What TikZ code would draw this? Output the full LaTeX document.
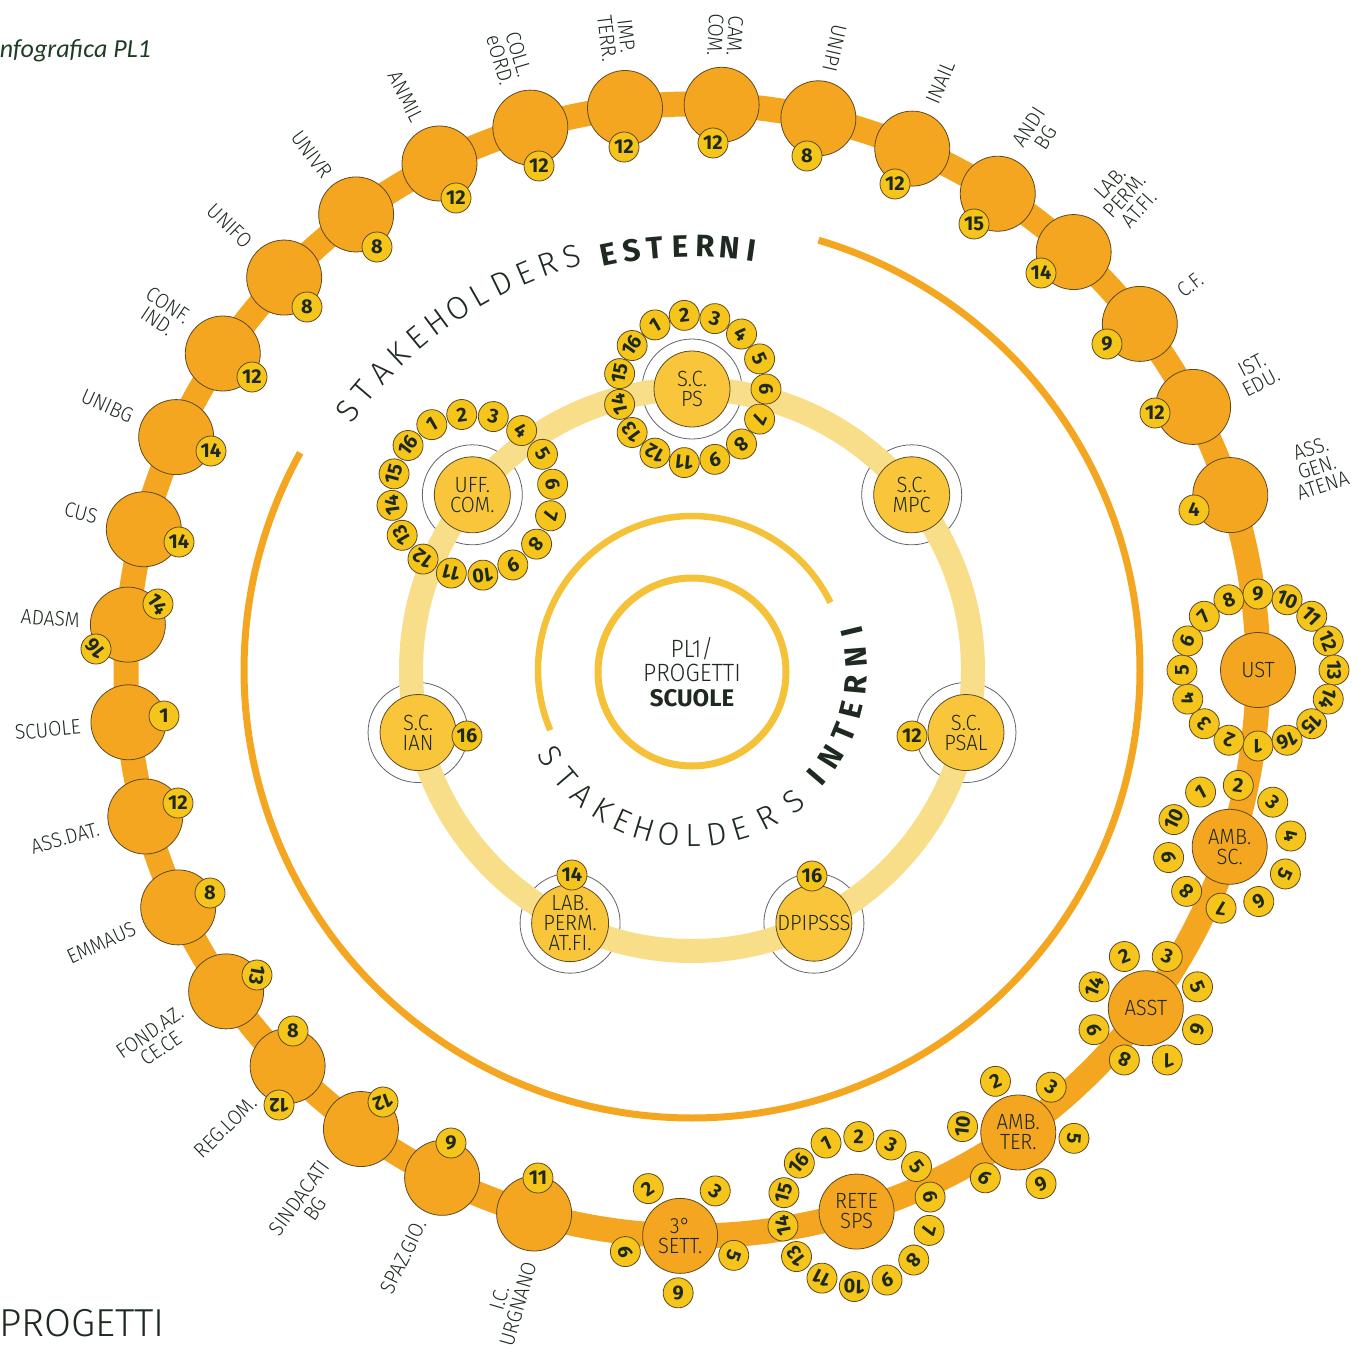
\documentclass[tikz,border=0pt]{standalone}
\usepackage{fontspec}
\setmainfont{Fira Sans}
\newfontfamily\flight{Fira Sans Light}
\newfontfamily\flightn{Fira Sans Light}[FakeStretch=0.92]
\newfontfamily\fcal{Carlito}
\definecolor{orA}{HTML}{F4A620}
\definecolor{bdg}{HTML}{F6C51C}
\definecolor{inY}{HTML}{F9C63B}
\definecolor{paleY}{HTML}{F8DE88}
\definecolor{goldC}{HTML}{F5C138}
\definecolor{ol}{HTML}{5E4A22}
\definecolor{txt}{HTML}{1E2A20}
\definecolor{dkgreen}{HTML}{1F3D24}
\definecolor{ringgray}{HTML}{60646B}
\newcommand\badgering[6]{%
  \begin{scope}[shift={(#1.center)}]
    \foreach \num [count=\ii from 0] in {#5} {
      \pgfmathsetmacro\bang{#3+(#4)*\ii}
      \node[badge, rotate=\bang-90] (#6-\num) at ({#2*cos(\bang)},{-#2*sin(\bang)}) {\num};
    }
  \end{scope}}
\begin{document}
\begin{tikzpicture}[x=1pt,y=-1pt,
  outer/.style={circle,draw=ol,line width=0.8pt,fill=orA,minimum size=75pt,inner sep=0pt,align=center,text=txt,font=\flightn\fontsize{22}{20}\selectfont},
  inner/.style={circle,draw=ol,line width=0.8pt,fill=inY,minimum size=76pt,inner sep=0pt,align=center,text=txt,font=\flightn\fontsize{22}{20}\selectfont},
  badge/.style={circle,draw=ol,line width=0.8pt,fill=bdg,minimum size=30pt,inner sep=0pt,text=txt,font=\bfseries\fontsize{20}{20}\selectfont},
  lblL/.style={anchor=east,align=center,inner sep=0pt,text=txt,font=\flightn\fontsize{21}{19.5}\selectfont},
  lblR/.style={anchor=west,align=center,inner sep=0pt,text=txt,font=\flightn\fontsize{21}{19.5}\selectfont},
  halo/.style={draw=ringgray,line width=0.8pt},
  letL/.style={text=txt,font=\flight\fontsize{32}{32}\selectfont,inner sep=0pt},
  letB/.style={text=txt,font=\bfseries\fontsize{31}{31}\selectfont,inner sep=0pt},
]
\useasboundingbox (0,0) rectangle (1364,1348);
\clip (0,0) rectangle (1364,1348);
\fill[white] (0,0) rectangle (1364,1348);

% thin outer arc, centre circle, inner arc
\draw[orA, line width=7pt] plot[domain=151:433.6, samples=300] ({692+448*cos(\x)},{670-448*sin(\x)});
\draw[goldC, line width=6.5pt] plot[domain=26:203, samples=200] ({692+154*cos(\x)},{670-154*sin(\x)});
\node[circle, draw=goldC, line width=7pt, minimum size=188pt, inner sep=0pt, align=center, text=txt,
  font=\flightn\fontsize{25}{24.5}\selectfont] (centre) at (692,672) {PL1/\\PROGETTI\\{\normalfont\bfseries\fontsize{24}{24.5}\selectfont SCUOLE}};

% outer band
\draw[orA, line width=25pt] (692,670) circle[radius=566];

% outer nodes, left labels
\foreach \nm/\ang/\lab in {SCUOLE/185.3/SCUOLE, ADASM/175.4/ADASM, CUS/165.6/CUS, UNIBG/155.7/UNIBG,
  CONF/146.0/CONF.\\IND., UNIFO/136.1/UNIFO, UNIVR/126.4/UNIVR, ANMIL/116.5/ANMIL,
  COLL/106.6/COLL.\\eORD., IMP/96.8/IMP.\\TERR., CAM/87.0/CAM.\\COM., UNIPI/77.1/UNIPI,
  URG/-106.2/I.C.\\URGNANO, SPAZ/-116.2/SPAZ.GIO., SIND/-125.8/SINDACATI\\BG, REG/-135.6/REG.LOM.,
  FOND/-145.4/FOND.AZ.\\CE.CE, EMM/-155.2/EMMAUS, ASSD/-165.0/ASS.DAT.}{
  \node[outer] (\nm) at ({692+566*cos(\ang)},{670-566*sin(\ang)}) {};
  \node[lblL, rotate=\ang-180] (\nm-l) at ({692+614*cos(\ang)},{670-614*sin(\ang)}) {\lab};
}
% outer nodes, right labels
\foreach \nm/\ang/\lab/\rr in {INAIL/67.1/INAIL/616, ANDI/57.3/ANDI\\BG/618, LABP/47.6/LAB.\\PERM.\\AT.FI./616,
  CF/37.7/C.F./616, IST/27.7/IST.\\EDU./618, ASSG/18.0/ASS.\\GEN.\\ATENA/630}{
  \node[outer] (\nm) at ({692+566*cos(\ang)},{670-566*sin(\ang)}) {};
  \node[lblR, rotate=\ang] (\nm-l) at ({692+\rr*cos(\ang)},{670-\rr*sin(\ang)}) {\lab};
}
% outer nodes with inner text
\foreach \nm/\ang/\lab in {UST/0/UST, AMBSC/-18.2/AMB.\\SC., ASST/-36.7/ASST, AMBTER/-54.8/AMB.\\TER.,
  RETE/-73.1/RETE\\SPS, SETT/-91.2/3°\\SETT.}{
  \node[outer] (\nm) at ({692+566*cos(\ang)},{670-566*sin(\ang)}) {\lab};
}

% single badges of outer nodes
\foreach \nm/\x/\y/\num/\rot in {bSCUOLE/164/716/1/0, bADASMa/158/604/14/-56, bADASMb/96/649/16/128,
  bCUS/179/542/14/0, bUNIBG/211/451/14/0, bCONF/252/377/12/0, bUNIFO/307/307/8/0, bUNIVR/377/247/8/0,
  bANMIL/456/198/12/0, bCOLL/539/166/12/0, bIMP/624/147/12/0, bCAM/713/143/12/0, bUNIPI/807/156/8/0,
  bINAIL/895/184/12/0, bANDI/974/224/15/0, bLABP/1041/273/14/0, bCF/1107/344/9/0, bIST/1155/413/12/0,
  bASSG/1194/510/4/0, bURG/538/1178/11/0, bSPAZ/451/1143/9/0, bSIND/383/1102/12/200,
  bREGa/293/1031/8/0, bREGb/279/1105/12/180, bFOND/257/975/13/-100, bEMM/210/893/8/0, bASSD/178/803/12/0}{
  \node[badge, rotate=\rot] (\nm) at (\x,\y) {\num};
}

% badge rings of outer nodes
\badgering{UST}{76}{-90}{-22.5}{1,2,3,4,5,6,7,8,9,10,11,12,13,14,15,16}{ust}
\badgering{AMBSC}{62}{118}{-36}{1,2,3,4,5,6,7,8,9,10}{ambsc}
\badgering{ASST}{56}{112.5}{-45}{2,3,5,6,7,8,9,14}{asst}
\badgering{AMBTER}{56}{114}{-60}{2,3,5,6,9,10}{ambter}
\badgering{RETE}{75}{114}{-25.714}{1,2,3,5,6,7,8,9,10,11,13,14,15,16}{rete}
\badgering{SETT}{57}{124}{-72}{2,3,5,6,9}{sett}

% inner stakeholders
\foreach \nm/\ang in {SCPS/90, SCMPC/38.571, SCPSAL/-12.857, DPI/-64.286, LABI/-115.714, SCIAN/-167.143, UFF/-218.571}{
  \coordinate (\nm-c) at ({692+281*cos(\ang)},{670-281*sin(\ang)});
  \draw[halo] (\nm-c) circle[radius=50];
}
\draw[paleY, line width=24pt] (692,670) circle[radius=281];
\foreach \nm/\lab in {SCPS/S.C.\\PS, SCMPC/S.C.\\MPC, SCPSAL/S.C.\\PSAL, DPI/DPIPSSS, LABI/LAB.\\PERM.\\AT.FI., SCIAN/S.C.\\IAN, UFF/UFF.\\COM.}{
  \node[inner] (\nm) at (\nm-c) {\lab};
}
\foreach \nm/\x/\y/\num in {bIAN/467/736/16, bPSAL/912/736/12, bLABI/572/875/14, bDPI/812/876/16}{
  \node[badge] (\nm) at (\x,\y) {\num};
}
\badgering{SCPS}{74}{120}{-24}{1,2,3,4,5,6,7,8,9,11,12,13,14,15,16}{scps}
\badgering{UFF}{81}{120}{-22.5}{1,2,3,4,5,6,7,8,9,10,11,12,13,14,15,16}{uff}

% curved titles
\foreach \ch/\ang [count=\ii] in {S/143.0, T/139.65, A/136.3, K/132.95, E/129.6, H/126.3, O/122.9, L/119.6, D/116.25, E/112.9, R/109.55, S/106.2}{
  \node[letL, rotate=\ang-90] (eL\ii) at ({692+431*cos(\ang)},{670-431*sin(\ang)}) {\ch};
}
\foreach \ch/\ang [count=\ii] in {E/101.4, S/98.2, T/95.0, E/91.6, R/88.2, N/84.9, I/81.9}{
  \node[letB, rotate=\ang-90] (eB\ii) at ({692+424*cos(\ang)},{670-424*sin(\ang)}) {\ch};
}
\foreach \ch/\ang [count=\ii] in {S/211.4, T/220.6, A/228.9, K/237.6, E/245.4, H/253.3, O/261.9, L/270.3, D/278.7, E/287.0, R/297.0, S/307.6}{
  \node[letL, rotate=\ang+90] (iL\ii) at ({692+166*cos(\ang)},{670-166*sin(\ang)}) {\ch};
}
\foreach \ch/\ang [count=\ii] in {I/319.4, N/327.8, T/337.4, E/346.0, R/354.7, N/364.6, I/373.4}{
  \node[letB, rotate=\ang+90] (iB\ii) at ({692+164*cos(\ang)},{670-164*sin(\ang)}) {\ch};
}

% corner texts
\node[anchor=base west, inner sep=0pt, text=dkgreen, font=\fcal\itshape\fontsize{26}{26}\selectfont] (title) at (-7,58) {Infografica PL1};
\node[anchor=base west, inner sep=0pt, text=txt, font=\flight\fontsize{39}{39}\selectfont] (prog) at (-1,1336) {PROGETTI};
\end{tikzpicture}
\end{document}
